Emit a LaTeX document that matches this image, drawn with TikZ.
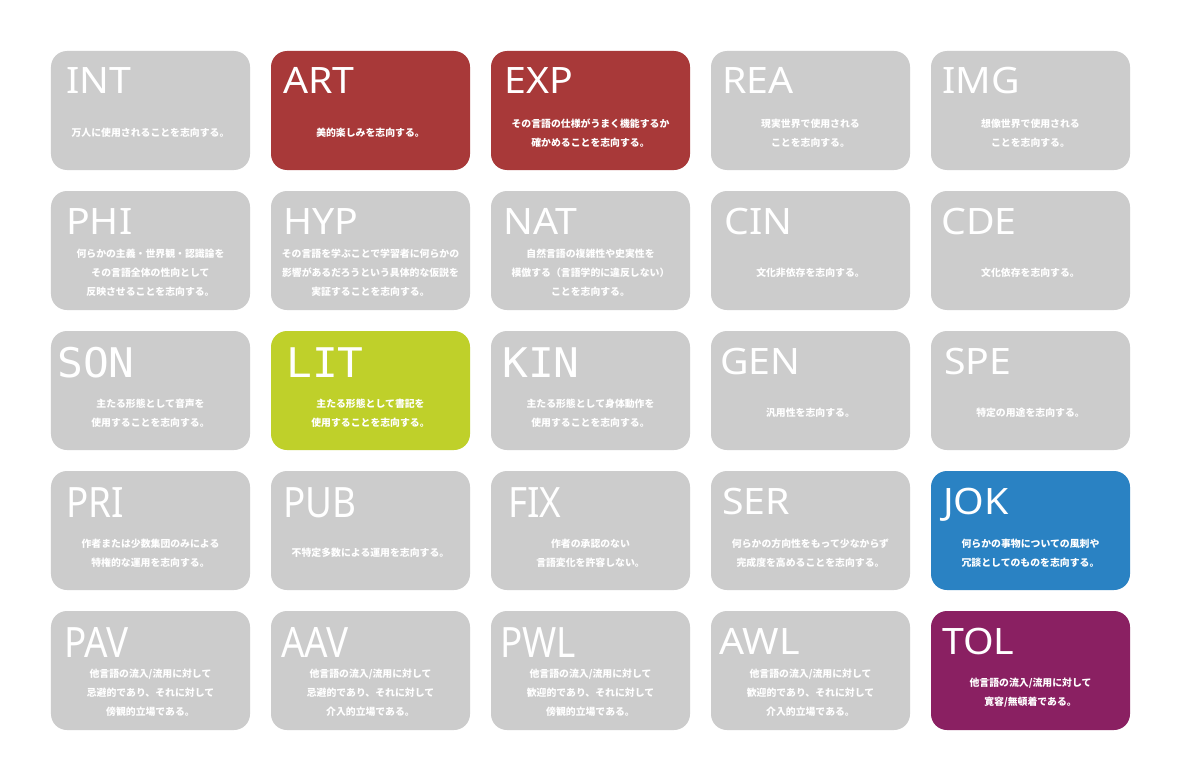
\documentclass[tikz,border=0pt]{standalone}
\usepackage{fontspec}
\setmainfont{Noto Sans}
\newfontfamily\jp{Noto Sans CJK JP}
\newfontfamily\monof{DejaVu Sans Mono}[FakeStretch=1.05]
\newfontfamily\condf{Noto Sans}[FakeStretch=0.88]
\newfontfamily\widef{Noto Sans}[FakeStretch=1.08]
\definecolor{cgray}{HTML}{CCCCCC}
\definecolor{cred}{HTML}{A83939}
\definecolor{cgreen}{HTML}{BFD02A}
\definecolor{cblue}{HTML}{2A82C3}
\definecolor{cpurple}{HTML}{8A2062}
\tikzset{
  card/.style={rounded corners=16bp, minimum width=199bp, minimum height=119bp, inner sep=0pt, draw=none},
  ttl/.style={inner sep=0pt, text=white},
  bodytxt/.style={inner sep=0pt, text=white, align=center, font=\jp\bfseries\fontsize{9.9}{19}\selectfont},
  fn/.style={font=\widef\fontsize{36.5}{40}\selectfont},
  fm/.style={font=\monof\fontsize{41}{46}\selectfont},
  fc/.style={font=\condf\fontsize{42}{48}\selectfont}
}
\newcommand\cardx[9]{%
  \node[card,fill=#4] (#1) at ({51+220*#2+99.5},{51+140*#3+59.5}) {};
  \node[ttl,#6,anchor=base west] (#1t) at (#5,{51+140*#3+#9}) {#7};
  \node[bodytxt] (#1b) at ({51+220*#2+99.5},{51+140*#3+82}) {#8};
}
\begin{document}
\begin{tikzpicture}[x=1bp,y=-1bp]
\useasboundingbox[fill=white] (0,0) rectangle (1182,781);
% row 0
\cardx{int}{0}{0}{cgray}{66}{fn}{INT}{万人に使用されることを志向する。}{43}
\cardx{art}{1}{0}{cred}{283}{fn}{ART}{美的楽しみを志向する。}{43}
\cardx{exp}{2}{0}{cred}{504}{fn}{EXP}{その言語の仕様がうまく機能するか\\確かめることを志向する。}{43}
\cardx{rea}{3}{0}{cgray}{722}{fn}{REA}{現実世界で使用される\\ことを志向する。}{43}
\cardx{img}{4}{0}{cgray}{942}{fn}{IMG}{想像世界で使用される\\ことを志向する。}{43}
% row 1
\cardx{phi}{0}{1}{cgray}{66}{fn}{PHI}{何らかの主義・世界観・認識論を\\その言語全体の性向として\\反映させることを志向する。}{43}
\cardx{hyp}{1}{1}{cgray}{283}{fn}{HYP}{その言語を学ぶことで学習者に何らかの\\影響があるだろうという具体的な仮説を\\実証することを志向する。}{43}
\cardx{nat}{2}{1}{cgray}{503}{fn}{NAT}{自然言語の複雑性や史実性を\\模倣する（言語学的に違反しない）\\ことを志向する。}{43}
\cardx{cin}{3}{1}{cgray}{724}{fn}{CIN}{文化非依存を志向する。}{43}
\cardx{cde}{4}{1}{cgray}{941}{fn}{CDE}{文化依存を志向する。}{43}
% row 2
\cardx{son}{0}{2}{cgray}{57}{fm}{SON}{主たる形態として音声を\\使用することを志向する。}{46}
\cardx{lit}{1}{2}{cgreen}{286}{fm}{LIT}{主たる形態として書記を\\使用することを志向する。}{46}
\cardx{kin}{2}{2}{cgray}{502}{fm}{KIN}{主たる形態として身体動作を\\使用することを志向する。}{46}
\cardx{gen}{3}{2}{cgray}{720}{fn}{GEN}{汎用性を志向する。}{43}
\cardx{spe}{4}{2}{cgray}{944}{fn}{SPE}{特定の用途を志向する。}{43}
% row 3
\cardx{pri}{0}{3}{cgray}{66}{fc}{PRI}{作者または少数集団のみによる\\特権的な運用を志向する。}{46}
\cardx{pub}{1}{3}{cgray}{283}{fc}{PUB}{不特定多数による運用を志向する。}{46}
\cardx{fix}{2}{3}{cgray}{508}{fc}{FIX}{作者の承認のない\\言語変化を許容しない。}{46}
\cardx{ser}{3}{3}{cgray}{722}{fn}{SER}{何らかの方向性をもって少なからず\\完成度を高めることを志向する。}{43}
\cardx{jok}{4}{3}{cblue}{943}{fn}{JOK}{何らかの事物についての風刺や\\冗談としてのものを志向する。}{43}
% row 4
\cardx{pav}{0}{4}{cgray}{64}{fc}{PAV}{他言語の流入/流用に対して\\忌避的であり、それに対して\\傍観的立場である。}{46}
\cardx{aav}{1}{4}{cgray}{281}{fc}{AAV}{他言語の流入/流用に対して\\忌避的であり、それに対して\\介入的立場である。}{46}
\cardx{pwl}{2}{4}{cgray}{500}{fc}{PWL}{他言語の流入/流用に対して\\歓迎的であり、それに対して\\傍観的立場である。}{46}
\cardx{awl}{3}{4}{cgray}{719}{fn}{AWL}{他言語の流入/流用に対して\\歓迎的であり、それに対して\\介入的立場である。}{43}
\cardx{tol}{4}{4}{cpurple}{942}{fn}{TOL}{他言語の流入/流用に対して\\寛容/無頓着である。}{43}
\end{tikzpicture}
\end{document}
